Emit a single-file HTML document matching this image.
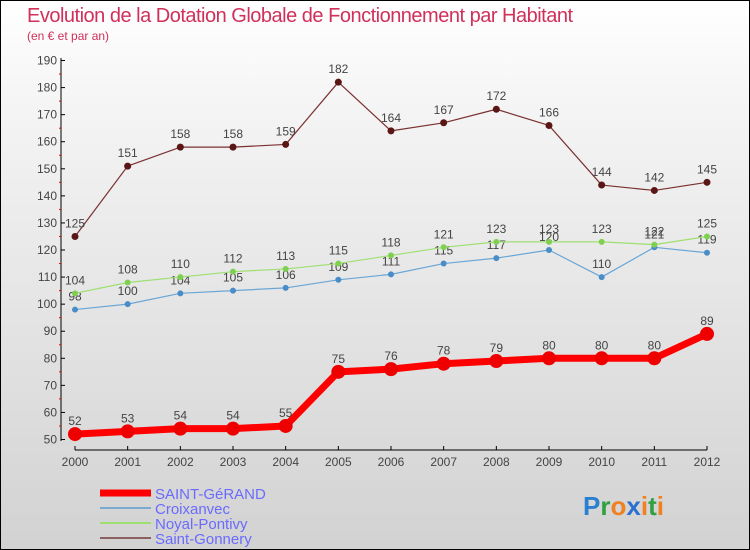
<!DOCTYPE html>
<html><head><meta charset="utf-8"><style>
body{margin:0}
#c{width:750px;height:550px;position:relative;box-sizing:border-box;border:1px solid #000;background:linear-gradient(#ffffff,#f4f4f4 20%,#d2d2d2);font-family:"Liberation Sans",sans-serif;overflow:hidden}
.t{position:absolute;left:26px;top:4px;font-size:20px;color:#d0305a;letter-spacing:-0.5px}
.s{position:absolute;left:26px;top:28px;font-size:12px;color:#d0305a}
</style></head><body>
<div id="c">
<div class="t">Evolution de la Dotation Globale de Fonctionnement par Habitant</div>
<div class="s">(en € et par an)</div>
<svg id="g" width="750" height="550" style="position:absolute;left:-1px;top:-1px"></svg>
</div>
<script>
const years=["2000","2001","2002","2003","2004","2005","2006","2007","2008","2009","2010","2011","2012"];
const yTicks=[50,60,70,80,90,100,110,120,130,140,150,160,170,180,190];
const saintGerand=[52,53,54,54,55,75,76,78,79,80,80,80,89];
const croixanvec=[98,100,104,105,106,109,111,115,117,120,110,121,119];
const noyal=[104,108,110,112,113,115,118,121,123,123,123,122,125];
const gonnery=[125,151,158,158,159,182,164,167,172,166,144,142,145];
const ns="http://www.w3.org/2000/svg";
const svg=document.getElementById('g');
const X=i=>75+i*(632/12);
const Y=v=>439.5-(v-50)*2.707;
function mk(t,a,p){const e=document.createElementNS(ns,t);for(const k in a)e.setAttribute(k,a[k]);(p||svg).appendChild(e);return e;}
let e=mk('line',{x1:61,y1:58,x2:61,y2:441,stroke:'#000'});


e=mk('line',{x1:75,y1:450,x2:707,y2:450,stroke:'#000'});


const yMax=yTicks[yTicks.length-1];
yTicks.forEach(v=>{
 mk('line',{x1:61,y1:Y(v),x2:65,y2:Y(v),stroke:'#000'});
 if(v<yMax) mk('line',{x1:59,y1:Y(v+5),x2:61,y2:Y(v+5),stroke:'#e00'});
 const t=mk('text',{x:57,y:Y(v)+4,'text-anchor':'end','font-size':12,fill:'#444'});t.textContent=v;
 
 
});
years.forEach((y,i)=>{
 mk('line',{x1:X(i),y1:446,x2:X(i),y2:450,stroke:'#000'});
 const t=mk('text',{x:X(i),y:466,'text-anchor':'middle','font-size':12,fill:'#444'});t.textContent=y;
 
 
});
function series(d,col,dot,w,r,name){
 const g=mk('g',{});
 
 
 mk('polyline',{points:d.map((v,i)=>X(i)+','+Y(v)).join(' '),fill:'none',stroke:col,'stroke-width':w,'stroke-linejoin':'round'},g);
 d.forEach((v,i)=>{
  const c=mk('circle',{cx:X(i),cy:Y(v),r:r,fill:dot},g);
  
  
  const t=mk('text',{x:X(i),y:Y(v)-9,'text-anchor':'middle','font-size':12,fill:'#444'},g);t.textContent=v;
  
  
 });
}
series(croixanvec,'#6aa6d6','#4a8cc8',1.2,3,'series-croixanvec');
series(noyal,'#9ee070','#7fd050',1.2,3,'series-noyal-pontivy');
series(gonnery,'#7a3030','#5a1515',1.2,3.5,'series-saint-gonnery');
series(saintGerand,'#ff0000','#ee0000',7,7,'series-saint-gerand');
const leg=[['SAINT-GéRAND','#ff0000',7],['Croixanvec','#7aaad0',2],['Noyal-Pontivy','#9ee070',2],['Saint-Gonnery','#8a6060',2]];
leg.forEach((l,i)=>{
 const y=493+i*15;
 const g=mk('g',{});
 
 
 mk('line',{x1:100,y1:y,x2:151,y2:y,stroke:l[1],'stroke-width':l[2]},g);
 const t=mk('text',{x:155,y:y+6,'font-size':15,fill:'#6a6aff'},g);t.textContent=l[0];
});
const lg=mk('text',{x:583,y:515,'font-size':26,'font-weight':'bold'});


[['P','#2a80d0'],['r','#30a040'],['o','#f08020'],['x','#2a70d0'],['i','#f08020'],['t','#30a040'],['i','#f08020']].forEach(p=>{const s=mk('tspan',{fill:p[1]},lg);s.textContent=p[0];});
</script>
</body></html>
